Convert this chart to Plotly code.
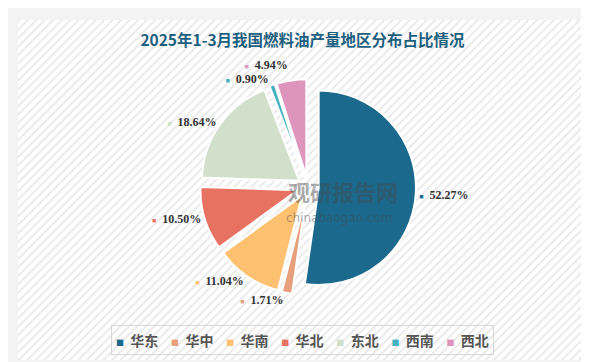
import base64
import plotly.graph_objects as go

regions = ["华东", "华中", "华南", "华北", "东北", "西南", "西北"]
shares = [52.27, 1.71, 11.04, 10.50, 18.64, 0.90, 4.94]
colors = ["#1b6a8e", "#e8a07c", "#fec172", "#e87262", "#d1dfcb", "#46b4c0", "#de95bc"]
title_text = "2025年1-3月我国燃料油产量地区分布占比情况"

labels_txt = [
    f'<span style="color:{c};fill-opacity:1;font-size:7px">■</span>  '
    f'<span style="color:#333333;fill-opacity:1">{v:.2f}%</span>'
    for v, c in zip(shares, colors)
]

legend_txt = "&nbsp;&nbsp;&nbsp;&nbsp;".join(
    f'<span style="color:{c};font-size:8px">■</span>&nbsp;&nbsp;{r}'
    for r, c in zip(regions, colors)
)

W, H = 589, 362

# hatched panel background
svg = (
    '<svg xmlns="http://www.w3.org/2000/svg" width="568" height="340">'
    '<defs><pattern id="p" width="6" height="6" patternUnits="userSpaceOnUse" '
    'patternTransform="rotate(45)">'
    '<rect width="6" height="6" fill="#ffffff"/>'
    '<rect width="2" height="6" fill="#ebebeb"/></pattern></defs>'
    '<rect width="568" height="340" fill="url(#p)"/></svg>'
)
src = "data:image/svg+xml;base64," + base64.b64encode(svg.encode()).decode()

cx, cy, half = 300, 179, 108

fig = go.Figure()
fig.add_trace(go.Pie(
    labels=regions,
    values=shares,
    text=labels_txt,
    texttemplate="%{text}",
    textposition="outside",
    textfont=dict(family="Liberation Serif", size=12, color="rgba(51,51,51,0)", weight="bold"),
    marker=dict(colors=colors, line=dict(color="#ffffff", width=2)),
    pull=[0.11] * len(shares),
    sort=False,
    direction="clockwise",
    rotation=0,
    hoverinfo="label+percent",
    domain=dict(x=[(cx - half) / W, (cx + half) / W],
                y=[1 - (cy + half) / H, 1 - (cy - half) / H]),
    showlegend=False,
))

fig.update_layout(
    width=W, height=H,
    margin=dict(l=0, r=0, t=0, b=0),
    paper_bgcolor="#f3f3f3",
    title=dict(
        text=f"<b>{title_text}</b>",
        x=0.5, xanchor="center", y=1 - 33 / H, yanchor="middle",
        font=dict(family="Noto Sans CJK SC", size=15.5, color="#1d5f7e"),
    ),
    images=[dict(
        source=src, xref="paper", yref="paper",
        x=10 / W, y=1 - 12 / H, sizex=568 / W, sizey=340 / H,
        xanchor="left", yanchor="top", sizing="stretch", layer="below",
    )],
    annotations=[
        dict(text="<b>观研报告网</b>", x=335 / W, y=1 - 183 / H, xref="paper", yref="paper",
             showarrow=False, font=dict(family="Noto Sans CJK SC", size=22,
                                        color="rgba(70,70,70,0.45)")),
        dict(text="chinabaogao.com", x=331 / W, y=1 - 210 / H, xref="paper", yref="paper",
             showarrow=False, font=dict(family="DejaVu Sans", size=12,
                                        color="rgba(70,70,70,0.45)")),
        dict(text=legend_txt, x=294 / W, y=1 - 332 / H, xref="paper", yref="paper",
             xanchor="center", yanchor="middle", showarrow=False,
             bordercolor="#d6d6d6", borderwidth=1, borderpad=4,
             font=dict(family="Noto Sans CJK SC", size=14, color="#555555", weight="bold")),
    ],
)

fig.write_html("out.html")
